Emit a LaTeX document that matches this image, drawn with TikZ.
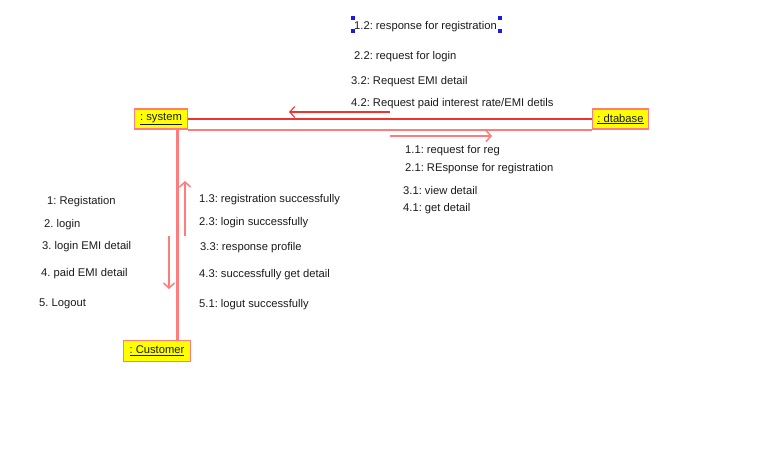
\documentclass[tikz,border=0pt]{standalone}
\usepackage{fontspec}
\setmainfont{Liberation Sans}
\frenchspacing
\usetikzlibrary{arrows.meta}
\definecolor{lnred}{HTML}{EE3333}
\definecolor{lnpink}{HTML}{FF7C7C}
\definecolor{boxyel}{HTML}{FFFF00}
\definecolor{txt}{HTML}{1A1A1A}
\definecolor{hblue}{HTML}{1A1AE6}
\tikzset{
  obj/.style={draw=lnpink, line width=1.6pt, fill=boxyel, inner sep=0pt, font=\fontsize{11.2}{13}\selectfont, text=txt},
  lbl/.style={anchor=west, inner sep=0pt, font=\fontsize{11.2}{13}\selectfont, text=txt, yshift=-1.5pt},
  msg/.style={draw=lnpink, line width=1.5pt, -{Straight Barb[length=5pt,width=11pt]}},
  msgr/.style={draw=lnred, line width=1.1pt, -{Straight Barb[length=5pt,width=11pt]}},
  handle/.style={fill=hblue, draw=none, minimum size=3.5pt, inner sep=0pt},
}
\begin{document}
\begin{tikzpicture}[x=1pt,y=-1pt]
\useasboundingbox (0,0) rectangle (772,467);
% objects
\node[obj, minimum width=53pt, minimum height=20pt] (sys) at (161,119) {\underline{: system}};
\node[obj, minimum width=56pt, minimum height=20pt] (db) at (620.5,119) {\underline{: dtabase}};
\node[obj, minimum width=67pt, minimum height=21pt] (cus) at (157,351) {\underline{: Customer}};
% links
\draw[lnred, line width=1.1pt] (sys.east) -- (db.west);
\draw[lnpink, line width=2pt] (sys.south east) -- (db.south west);
\draw[lnpink, line width=3pt] (sys.south -| 177.5,0) -- (cus.north -| 177.5,0);
% message arrows
\coordinate (a1s) at (390,112); \coordinate (a1e) at (289,112);
\coordinate (a2s) at (390,136); \coordinate (a2e) at (492,136);
\coordinate (a3s) at (185,236); \coordinate (a3e) at (185,181);
\coordinate (a4s) at (169,236); \coordinate (a4e) at (169,289);
\draw[msgr] (a1s) -- (a1e);
\draw[msg] (a2s) -- (a2e);
\draw[msg] (a3s) -- (a3e);
\draw[msg] (a4s) -- (a4e);
% top labels
\node[lbl] (t1) at (354,25) {1.2: response for registration};
\node[lbl] (t2) at (354,55) {2.2: request for login};
\node[lbl] (t3) at (351,80) {3.2: Request EMI detail};
\node[lbl] (t4) at (351,102) {4.2: Request paid interest rate/EMI detils};
% selection handles
\node[handle] (h1) at (353,18) {};
\node[handle] (h2) at (353,31) {};
\node[handle] (h3) at (500,18) {};
\node[handle] (h4) at (500,31) {};
% right labels
\node[lbl] (r1) at (405,149) {1.1: request for reg};
\node[lbl] (r2) at (405,167) {2.1: REsponse for registration};
\node[lbl] (r3) at (403,189) {3.1: view detail};
\node[lbl] (r4) at (403,207) {4.1: get detail};
% left labels
\node[lbl] (l1) at (47,200) {1: Registation};
\node[lbl] (l2) at (44,223) {2. login};
\node[lbl] (l3) at (42,245) {3. login EMI detail};
\node[lbl] (l4) at (41,272) {4. paid EMI detail};
\node[lbl] (l5) at (39,302) {5. Logout};
% middle labels
\node[lbl] (m1) at (199,198) {1.3: registration successfully};
\node[lbl] (m2) at (199,221) {2.3: login successfully};
\node[lbl] (m3) at (200,246) {3.3: response profile};
\node[lbl] (m4) at (199,273) {4.3: successfully get detail};
\node[lbl] (m5) at (199,303) {5.1: logut successfully};
\end{tikzpicture}
\end{document}
